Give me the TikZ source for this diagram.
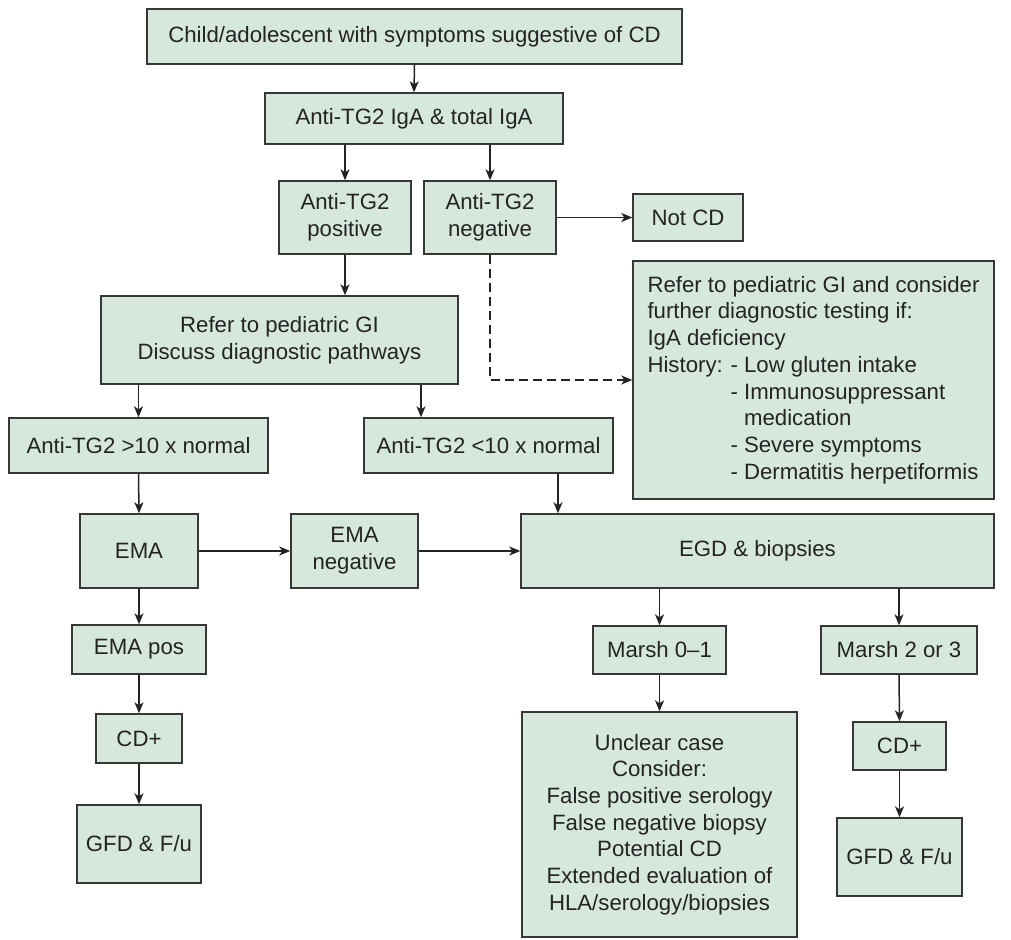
\documentclass[tikz,border=0pt]{standalone}
\usepackage{fontspec}
\setmainfont{Liberation Sans}
\usetikzlibrary{arrows.meta}
\definecolor{boxfill}{RGB}{214,232,220}
\definecolor{boxline}{RGB}{55,55,55}
\definecolor{ink}{RGB}{35,35,35}
\begin{document}
\begin{tikzpicture}[x=1pt,y=-1pt,
  box/.style={draw=boxline, fill=boxfill, line width=1.4pt, inner sep=0pt,
    align=center, text=ink, font=\fontsize{22.2}{26.7}\selectfont},
  arr/.style={draw=ink, line width=1.5pt, -{Stealth[length=11pt,width=9pt,inset=3pt]}},
  dasharr/.style={arr, dash pattern=on 9pt off 5pt}]
\useasboundingbox (0,0) rectangle (1011,939);
\fill[white] (0,0) rectangle (1011,939);
% nodes
\node[box, minimum width=535pt, minimum height=55pt] (top) at (414.5,36.5)
  {Child/adolescent with symptoms suggestive of CD};
\node[box, minimum width=298pt, minimum height=51pt] (iga) at (414,118.5)
  {Anti-TG2 IgA \& total IgA};
\node[box, minimum width=132pt, minimum height=73pt] (pos) at (345,217.5)
  {Anti-TG2\\positive};
\node[box, minimum width=132pt, minimum height=73pt] (neg) at (490,217.5)
  {Anti-TG2\\negative};
\node[box, minimum width=110pt, minimum height=47pt] (notcd) at (688,217.5)
  {Not CD};
\node[box, minimum width=357pt, minimum height=88pt] (refer) at (279.5,340)
  {Refer to pediatric GI\\Discuss diagnostic pathways};
\node[box, minimum width=361pt, minimum height=238pt, align=left] (info) at (813.5,380)
  {Refer to pediatric GI and consider\\
   further diagnostic testing if:\\
   IgA deficiency\\
   \makebox[83pt][l]{History:}- Low gluten intake\\
   \hspace*{83pt}- Immunosuppressant\\
   \hspace*{83pt}\phantom{- }medication\\
   \hspace*{83pt}- Severe symptoms\\
   \hspace*{83pt}- Dermatitis herpetiformis};
\node[box, minimum width=259pt, minimum height=55pt] (gt10) at (138.5,445.5)
  {Anti-TG2 >10 x normal};
\node[box, minimum width=249pt, minimum height=55pt] (lt10) at (488.5,445.5)
  {Anti-TG2 <10 x normal};
\node[box, minimum width=118pt, minimum height=74pt] (ema) at (139,551)
  {EMA};
\node[box, minimum width=127pt, minimum height=74pt] (emaneg) at (354.5,551)
  {EMA\\negative};
\node[box, minimum width=473pt, minimum height=74pt] (egd) at (757.5,551)
  {EGD \& biopsies};
\node[box, minimum width=134pt, minimum height=49pt] (emapos) at (139,649.5)
  {EMA pos};
\node[box, minimum width=86pt, minimum height=49pt] (cdL) at (139,738.5)
  {CD+};
\node[box, minimum width=124pt, minimum height=78pt] (gfdL) at (139,844)
  {GFD \& F/u};
\node[box, minimum width=133pt, minimum height=48pt] (m01) at (659.5,650)
  {Marsh 0--1};
\node[box, minimum width=156pt, minimum height=48pt] (m23) at (899,650)
  {Marsh 2 or 3};
\node[box, minimum width=275pt, minimum height=225pt] (unclear) at (659.5,824.5)
  {Unclear case\\Consider:\\False positive serology\\False negative biopsy\\
   Potential CD\\Extended evaluation of\\HLA/serology/biopsies};
\node[box, minimum width=93pt, minimum height=48pt] (cdR) at (899.5,746)
  {CD+};
\node[box, minimum width=125pt, minimum height=78pt] (gfdR) at (899.5,857)
  {GFD \& F/u};
% helper coordinates
\coordinate (c1) at ([xshift=-67.5pt]lt10.north);
\coordinate (c2) at ([xshift=69.5pt]lt10.south);
% connectors
\draw[arr] (top.south) -- (iga.north);
\draw[arr] (pos.north |- iga.south) -- (pos.north);
\draw[arr] (neg.north |- iga.south) -- (neg.north);
\draw[arr] (neg.east) -- (notcd.west);
\draw[arr] (pos.south) -- (pos.south |- refer.north);
\draw[dasharr] (neg.south) -- (neg.south |- info.west) -- (info.west);
\draw[arr] (gt10.north |- refer.south) -- (gt10.north);
\draw[arr] (c1 |- refer.south) -- (c1);
\draw[arr] (gt10.south) -- (ema.north);
\draw[arr] (c2) -- (c2 |- egd.north);
\draw[arr] (ema.east) -- (emaneg.west);
\draw[arr] (emaneg.east) -- (egd.west);
\draw[arr] (ema.south) -- (emapos.north);
\draw[arr] (emapos.south) -- (cdL.north);
\draw[arr] (cdL.south) -- (gfdL.north);
\draw[arr] (m01.north |- egd.south) -- (m01.north);
\draw[arr] (m23.north |- egd.south) -- (m23.north);
\draw[arr] (m01.south) -- (unclear.north);
\draw[arr] (m23.south) -- (cdR.north);
\draw[arr] (cdR.south) -- (gfdR.north);
\end{tikzpicture}
\end{document}
